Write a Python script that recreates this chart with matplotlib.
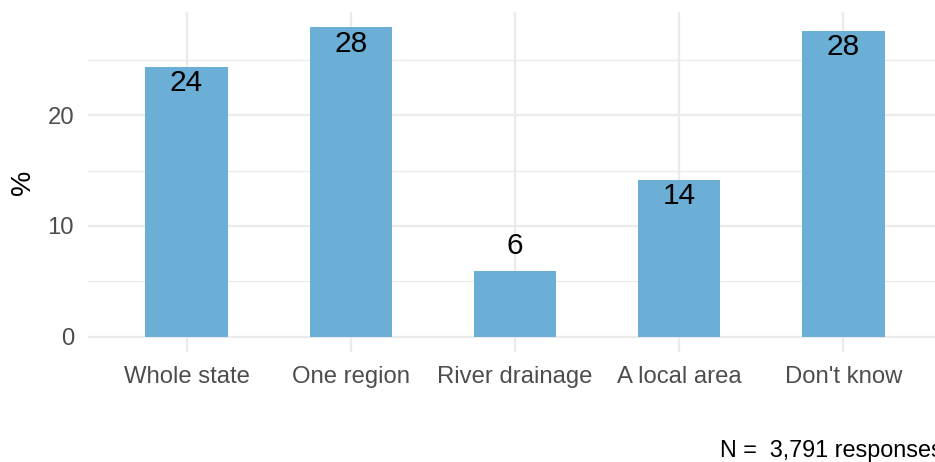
import numpy as np
import matplotlib.pyplot as plt
from matplotlib.ticker import MultipleLocator

plt.rcParams['font.family'] = ['Liberation Sans', 'DejaVu Sans']

# data
categories = ["Whole state", "One region", "River drainage", "A local area", "Don't know"]
values = [24.4, 27.95, 5.95, 14.2, 27.65]
caption = "N =  3,791 responses"

fig = plt.figure(figsize=(9.35, 4.62), dpi=100)
ax = fig.add_axes([88 / 935, 110 / 462, 854 / 935, 340 / 462])

x = np.arange(len(categories))
ax.bar(x, values, width=0.5, color="#6BAED6", zorder=3)

for xi, v in zip(x, values):
    # labels inside the bar top, or above it for short bars
    off = -12 if v > 10 else 17.5
    ax.annotate(f"{v:.0f}", (xi, v), xytext=(0, off), textcoords="offset points",
                ha="center", va="center", fontsize=21.5, color="black", zorder=4)

ax.set_xlim(-0.6, len(categories) - 0.4)
ax.set_ylim(-1.4, 29.35)
ax.set_xticks(x)
ax.set_xticklabels(categories)
ax.yaxis.set_major_locator(MultipleLocator(10))
ax.yaxis.set_minor_locator(MultipleLocator(5))

ax.grid(True, which="major", color="#EBEBEB", linewidth=1.6, zorder=0)
ax.grid(True, which="minor", axis="y", color="#EBEBEB", linewidth=0.9, zorder=0)
for s in ax.spines.values():
    s.set_visible(False)
ax.tick_params(which="both", length=0, labelsize=17.2, labelcolor="#4D4D4D")
ax.tick_params(axis="x", pad=10)
ax.tick_params(axis="y", pad=10)
ax.set_ylabel("%", fontsize=20.5, labelpad=8)

# caption runs off the right edge, as in the original
fig.text(943 / 935, 12 / 462, caption, ha="right", va="center", fontsize=16.8)

fig.savefig("out.png", dpi=100)
